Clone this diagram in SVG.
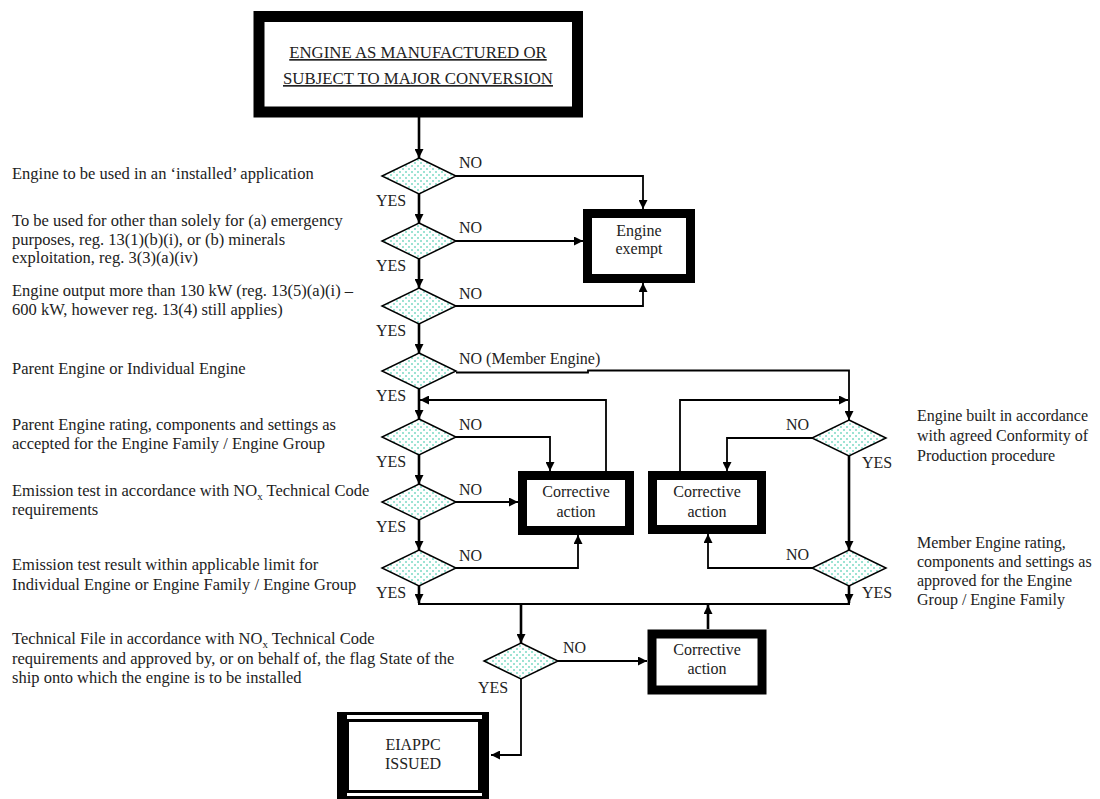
<svg xmlns="http://www.w3.org/2000/svg" width="1100" height="799" viewBox="0 0 1100 799">
<defs>
<pattern id="dots" width="6" height="6" patternUnits="userSpaceOnUse">
<rect width="6" height="6" fill="#ffffff"/>
<circle cx="1" cy="1" r="0.8" fill="#1fbf9c"/>
<circle cx="4" cy="4" r="0.8" fill="#1fbf9c"/>
</pattern>
<marker id="arr" viewBox="0 0 10 10" refX="10" refY="5" markerWidth="9" markerHeight="9" markerUnits="userSpaceOnUse" orient="auto">
<path d="M0,0 L10,5 L0,10 z" fill="#000"/>
</marker>
<style>
text{font-family:"Liberation Serif","Times New Roman",serif;fill:#222;}
.t{font-size:16.5px;}
.r{font-size:16px;}
.lbl{font-size:16px;}
.bx{font-size:16px;text-anchor:middle;}
.hd{font-size:16.8px;text-anchor:middle;}
.dia{fill:url(#dots);stroke:#000;stroke-width:1.5;}
.box{fill:#fff;stroke:#000;stroke-width:9;}
.ln{fill:none;stroke:#000;stroke-width:1.8;}
.sp{fill:none;stroke:#000;stroke-width:2.6;}
</style>
</defs>
<rect width="1100" height="799" fill="#fff"/>

<g id="connectors">
<path class="sp" d="M419,117 V158" marker-end="url(#arr)"/>
<path class="sp" d="M419,194 V223" marker-end="url(#arr)"/>
<path class="sp" d="M419,259 V288" marker-end="url(#arr)"/>
<path class="sp" d="M419,324 V353" marker-end="url(#arr)"/>
<path class="sp" d="M419,389 V419" marker-end="url(#arr)"/>
<path class="sp" d="M419,455 V484" marker-end="url(#arr)"/>
<path class="sp" d="M419,520 V550" marker-end="url(#arr)"/>
<path class="sp" d="M419,586 V603" marker-end="url(#arr)"/>
<path class="ln" d="M418,604 H850"/>
<path class="sp" d="M521,604 V643" marker-end="url(#arr)"/>
<path class="ln" d="M521,679 V755 H491" marker-end="url(#arr)"/>
<path class="ln" d="M558,661 H647" marker-end="url(#arr)"/>
<path class="sp" d="M708,629 V605" marker-end="url(#arr)"/>
<path class="ln" d="M456,176 H643 V209" marker-end="url(#arr)"/>
<path class="ln" d="M456,241 H583" marker-end="url(#arr)"/>
<path class="ln" d="M456,306 H643 V283" marker-end="url(#arr)"/>
<path class="ln" d="M456,372.5 H588 V370.5 H849 V420" marker-end="url(#arr)"/>
<path class="ln" d="M680,471 V400 H848" marker-end="url(#arr)"/>
<path class="ln" d="M812,438 H727 V471" marker-end="url(#arr)"/>
<path class="sp" d="M849,456 V550" marker-end="url(#arr)"/>
<path class="ln" d="M812,568 H708 V534" marker-end="url(#arr)"/>
<path class="sp" d="M849,586 V603" marker-end="url(#arr)"/>
<path class="ln" d="M456,437 H550 V471" marker-end="url(#arr)"/>
<path class="ln" d="M456,502 H518" marker-end="url(#arr)"/>
<path class="ln" d="M456,568 H578 V535" marker-end="url(#arr)"/>
<path class="ln" d="M606,471 V400 H420" marker-end="url(#arr)"/>
</g>

<g id="start">
<rect x="259" y="16.5" width="318.5" height="95.5" fill="#fff" stroke="#000" stroke-width="11"/>
<text class="hd" x="418" y="58" text-decoration="underline">ENGINE AS MANUFACTURED OR</text>
<text class="hd" x="418" y="84" text-decoration="underline">SUBJECT TO MAJOR CONVERSION</text>
</g>

<g id="d1"><polygon class="dia" points="419,158 456,176 419,194 382,176"/>
<text class="lbl" x="459" y="168">NO</text><text class="lbl" x="376" y="206">YES</text>
<text class="t" x="12" y="179">Engine to be used in an ‘installed’ application</text></g>

<g id="d2"><polygon class="dia" points="419,223 456,241 419,259 382,241"/>
<text class="lbl" x="459" y="233">NO</text><text class="lbl" x="376" y="271">YES</text>
<text class="t" x="12" y="226">To be used for other than solely for (a) emergency</text>
<text class="t" x="12" y="244.5">purposes, reg. 13(1)(b)(i), or (b) minerals</text>
<text class="t" x="12" y="263">exploitation, reg. 3(3)(a)(iv)</text></g>

<g id="d3"><polygon class="dia" points="419,288 456,306 419,324 382,306"/>
<text class="lbl" x="459" y="299">NO</text><text class="lbl" x="376" y="336">YES</text>
<text class="t" x="12" y="296">Engine output more than 130 kW (reg. 13(5)(a)(i) –</text>
<text class="t" x="12" y="315">600 kW,  however reg. 13(4) still applies)</text></g>

<g id="exempt"><rect class="box" x="587.5" y="213.5" width="103" height="65"/>
<text class="bx" x="639" y="236">Engine</text><text class="bx" x="639" y="254">exempt</text></g>

<g id="d4"><polygon class="dia" points="419,353 456,371 419,389 382,371"/>
<text class="lbl" x="459" y="364">NO (Member Engine)</text><text class="lbl" x="376" y="401">YES</text>
<text class="t" x="12" y="374">Parent Engine or Individual Engine</text></g>

<g id="d5"><polygon class="dia" points="419,419 456,437 419,455 382,437"/>
<text class="lbl" x="459" y="430">NO</text><text class="lbl" x="376" y="467">YES</text>
<text class="t" x="12" y="430">Parent Engine rating, components and settings as</text>
<text class="t" x="12" y="449">accepted for the Engine Family / Engine Group</text></g>

<g id="d6"><polygon class="dia" points="419,484 456,502 419,520 382,502"/>
<text class="lbl" x="459" y="495">NO</text><text class="lbl" x="376" y="532">YES</text>
<text class="t" x="12" y="496">Emission test in accordance with NO<tspan font-size="11" dy="4">x</tspan><tspan dy="-4"> Technical Code</tspan></text>
<text class="t" x="12" y="515">requirements</text></g>

<g id="d7"><polygon class="dia" points="419,550 456,568 419,586 382,568"/>
<text class="lbl" x="459" y="561">NO</text><text class="lbl" x="376" y="598">YES</text>
<text class="t" x="12" y="570">Emission test result within applicable limit for</text>
<text class="t" x="12" y="590">Individual Engine or Engine Family / Engine Group</text></g>

<g id="corr1"><rect class="box" x="522.5" y="475.5" width="107" height="55"/>
<text class="bx" x="576" y="497">Corrective</text><text class="bx" x="576" y="517">action</text></g>

<g id="corr2"><rect class="box" x="652.5" y="475.5" width="109" height="54"/>
<text class="bx" x="707" y="497">Corrective</text><text class="bx" x="707" y="517">action</text></g>

<g id="da"><polygon class="dia" points="849,420 886,438 849,456 812,438"/>
<text class="lbl" x="786" y="430">NO</text><text class="lbl" x="862" y="468">YES</text>
<text class="r" x="917" y="421">Engine built in accordance</text>
<text class="r" x="917" y="441">with agreed Conformity of</text>
<text class="r" x="917" y="461">Production procedure</text></g>

<g id="db"><polygon class="dia" points="849,550 886,568 849,586 812,568"/>
<text class="lbl" x="786" y="560">NO</text><text class="lbl" x="862" y="598">YES</text>
<text class="r" x="917" y="548">Member Engine rating,</text>
<text class="r" x="917" y="567">components and settings as</text>
<text class="r" x="917" y="586">approved for the Engine</text>
<text class="r" x="917" y="605">Group / Engine Family</text></g>

<g id="d8"><polygon class="dia" points="521,643 558,661 521,679 484,661"/>
<text class="lbl" x="563" y="653">NO</text><text class="lbl" x="478" y="693">YES</text>
<text class="t" x="12" y="644">Technical File in accordance with NO<tspan font-size="11" dy="4">x</tspan><tspan dy="-4"> Technical Code</tspan></text>
<text class="t" x="12" y="664">requirements and approved by, or on behalf of, the flag State of the</text>
<text class="t" x="12" y="683">ship onto which the engine is to be installed</text></g>

<g id="corr3"><rect class="box" x="652" y="634" width="110" height="56" stroke-width="10"/>
<text class="bx" x="707" y="655">Corrective</text><text class="bx" x="707" y="674">action</text></g>

<g id="issued">
<rect x="337" y="712" width="152" height="87" fill="#000"/>
<rect x="347" y="715" width="135" height="4" fill="#fff"/>
<rect x="349" y="722" width="129" height="68" fill="#fff"/>
<rect x="347" y="793" width="135" height="3" fill="#fff"/>
<text class="bx" x="413" y="750">EIAPPC</text><text class="bx" x="413" y="769">ISSUED</text>
</g>
</svg>
